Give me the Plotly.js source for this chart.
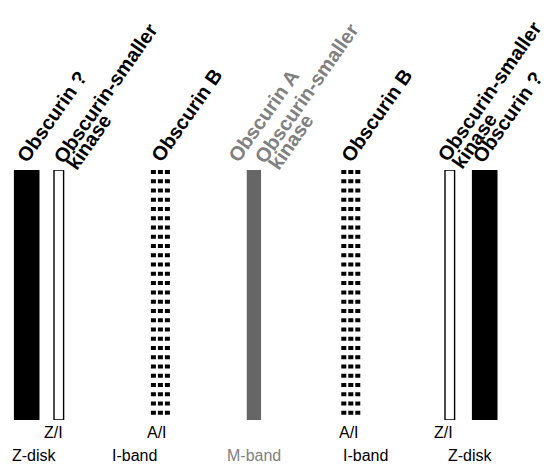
<!DOCTYPE html>
<html><head><meta charset="utf-8">
<script src="https://cdn.plot.ly/plotly-3.0.1.min.js"></script>
<style>html,body{margin:0;padding:0;background:#fff;}</style>
</head><body>
<div id="chart" style="width:546px;height:464px"></div>
<script>
// ---- data: positions along the sarcomere (schematic units) ----
const obscurinUnknownPos = [26.7, 484.7];   // "Obscurin ?"  (Z-disk)
const smallerKinasePos   = [58.8, 449.8];   // "Obscurin-smaller kinase" (Z/I)
const obscurinBPos       = [160.4, 350.8];  // "Obscurin B" (A/I)
const obscurinAPos       = [253.9];         // "Obscurin A" + smaller kinase (M-band)
const fullLength         = [1, 1];          // every stripe spans the whole height

const boundaryNames   = ['Z/I', 'A/I', 'A/I', 'Z/I'];
const boundaryPos     = [53.3, 156.7, 349.3, 443.3];
const regionNames     = ['Z-disk', 'I-band', 'M-band', 'I-band', 'Z-disk'];
const regionPos       = [34.8, 134.3, 253.8, 365.7, 470.5];

const topLabels = ['Obscurin ?', 'Obscurin-smaller', 'kinase', 'Obscurin B',
                   'Obscurin A', 'Obscurin-smaller', 'kinase', 'Obscurin B',
                   'Obscurin-smaller', 'kinase', 'Obscurin ?'];

// ---- layout helpers ----
const W = 546, H = 464, T = 170, B = 44;
const plotH = H - T - B;
const py = p => (H - B - p) / plotH;   // pixel row -> paper y

const FONT = 'Liberation Sans, Arial, sans-serif';
const GREY_TXT = '#808080';
const LSIZE = 20, ANG = 55;

// baseline start point of every rotated label (pixels) and colour
const labelAnchors = [
  [26.3,165,'#000'], [62.7,166,'#000'], [75.5,173,'#000'], [160.4,165,'#000'],
  [237,165,GREY_TXT], [263.7,166,GREY_TXT], [277.5,173,GREY_TXT], [350.5,165,'#000'],
  [446.7,164,'#000'], [460.5,171.5,'#000'], [481.7,166,'#000']
];
// geometry of a plotly annotation box for LSIZE text
const c = Math.cos(ANG*Math.PI/180), s = Math.sin(ANG*Math.PI/180);
const pad = 1, asc = 0.905*LSIZE, boxH = Math.round((0.905+0.212)*LSIZE + 2*pad);

const traces = [];
traces.push({type:'bar', x: obscurinUnknownPos, y: fullLength, width: 25.6,
  marker:{color:'#000', line:{width:0}}, hoverinfo:'skip'});
traces.push({type:'bar', x: smallerKinasePos, y: fullLength, width: 9.6,
  marker:{color:'#fff', line:{color:'#000', width:1.4}}, hoverinfo:'skip'});
traces.push({type:'bar', x: obscurinAPos, y: [fullLength[0]], width: 14.3,
  marker:{color:'#666666', line:{width:0}}, hoverinfo:'skip'});
// dotted stripes: three dotted columns per stripe
const colOffsets = [-7, 0, 7];
obscurinBPos.forEach(cx => {
  colOffsets.forEach(o => {
    traces.push({type:'scatter', mode:'lines', x:[cx + o, cx + o], y:[fullLength[0], 0],
      line:{color:'#000', width:5, dash:'4px,5.26px'}, hoverinfo:'skip'});
  });
});

const annotations = [];
topLabels.forEach((t, i) => {
  const [sx, sy, col] = labelAnchors[i];
  const cornerX = sx - pad*c - (pad+asc)*s;
  const cornerY = sy + pad*s - (pad+asc)*c + boxH*c;
  annotations.push({text: t, xref:'paper', yref:'paper', x: cornerX/W, y: py(cornerY),
    xanchor:'left', yanchor:'bottom', textangle:-ANG, showarrow:false, borderpad:pad,
    font:{family:FONT, size:LSIZE, color:col, weight:'bold'}});
});
boundaryNames.forEach((t, i) => annotations.push({text:t, xref:'x', yref:'paper',
  x: boundaryPos[i], y: py(432.8), xanchor:'center', yanchor:'middle', showarrow:false,
  font:{family:FONT, size:16, color:'#000'}}));
regionNames.forEach((t, i) => annotations.push({text:t, xref:'x', yref:'paper',
  x: regionPos[i], y: py(455), xanchor:'center', yanchor:'middle', showarrow:false,
  font:{family:FONT, size:16, color: t === 'M-band' ? GREY_TXT : '#000'}}));

const layout = {
  width: W, height: H, margin:{l:0, r:0, t:T, b:B, pad:0},
  paper_bgcolor:'#fff', plot_bgcolor:'#fff', showlegend:false, barmode:'overlay',
  xaxis:{range:[0, W], visible:false, fixedrange:true},
  yaxis:{range:[0, 1], visible:false, fixedrange:true},
  annotations: annotations
};
Plotly.newPlot('chart', traces, layout, {staticPlot:true, displayModeBar:false});
</script>
</body></html>
